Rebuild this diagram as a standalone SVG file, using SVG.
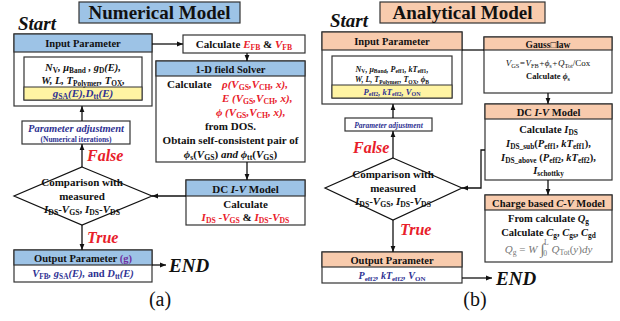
<svg xmlns="http://www.w3.org/2000/svg" width="620" height="321" viewBox="0 0 620 321">
  <style>
    text { font-family: "Liberation Serif", "Times New Roman", serif; font-weight: bold; fill: #111; }
    .box { fill: #fff; stroke: #333; stroke-width: 1.2; }
    .hb { fill: #9dc3e6; stroke: #333; stroke-width: 1.2; }
    .hp { fill: #f8cbad; stroke: #333; stroke-width: 1.2; }
    .yl { fill: #fff4a3; stroke: #333; stroke-width: 1; }
    .ln { fill: none; stroke: #111; stroke-width: 1.3; }
    .dm { fill: #fff; stroke: #111; stroke-width: 1.2; }
    .it { font-style: italic; }
    .up { font-style: normal; }
    .red { fill: #e8202a; }
    .blk { fill: #111; }
    .blu { fill: #2e3192; }
    .pur { fill: #7030a0; }
    .gry { fill: #777; font-weight: normal; }
    .c { text-anchor: middle; }
    .s { font-size: 70%; font-style: normal; }
    .big { font-size: 19px; font-style: italic; }
    .lab { font-size: 20px; font-weight: normal; }
  </style>
  <defs>
    <marker id="ah" viewBox="0 0 10 10" refX="10" refY="5" markerWidth="6" markerHeight="6" orient="auto" markerUnits="userSpaceOnUse">
      <path d="M0,1 L10,5 L0,9 z" fill="#111"/>
    </marker>
  </defs>

  <!-- ===== Panel (a): numerical model ===== -->
  <g id="title-a">
    <rect x="79" y="2" width="161" height="21" class="hb"/>
    <text x="159.5" y="19" class="c" font-size="19">Numerical Model</text>
  </g>
  <text x="18" y="30" class="big">Start</text>

  <g id="input-a">
    <rect x="14" y="34" width="138" height="72" class="box"/>
    <rect x="14" y="34" width="138" height="18" class="hb"/>
    <text x="83" y="47" class="c" font-size="10.5">Input Parameter</text>
    <rect x="24" y="57" width="118" height="43" class="box"/>
    <rect x="24" y="87" width="118" height="13" class="yl"/>
    <text x="83" y="71" class="c it" font-size="10.5">N<tspan class="s" dy="1.5">V</tspan><tspan dy="-1.5">, μ</tspan><tspan class="s" dy="1.5">Band</tspan><tspan dy="-1.5"> , g</tspan><tspan class="s" dy="1.5">D</tspan><tspan dy="-1.5">(E),</tspan></text>
    <text x="83" y="84" class="c it" font-size="10.5">W, L, T<tspan class="s" dy="1.5">Polymer</tspan><tspan dy="-1.5">, T</tspan><tspan class="s" dy="1.5">OX</tspan><tspan dy="-1.5">,</tspan></text>
    <text x="83" y="97" class="c it blu" font-size="11">g<tspan class="s" dy="2">SA</tspan><tspan dy="-2">(E),D</tspan><tspan class="s" dy="2">tt</tspan><tspan dy="-2">(E)</tspan></text>
  </g>

  <g id="calc-efb">
    <rect x="183" y="35" width="122" height="18" class="box"/>
    <text x="244" y="48" class="c" font-size="11">Calculate <tspan class="it red">E</tspan><tspan class="s red" dy="2">FB</tspan><tspan dy="-2"> &amp; </tspan><tspan class="it red">V</tspan><tspan class="s red" dy="2">FB</tspan></text>
  </g>

  <g id="field-solver">
    <rect x="156" y="61" width="149" height="101" class="box"/>
    <rect x="156" y="61" width="149" height="15" class="hb"/>
    <text x="230.5" y="72.5" class="c" font-size="10.5">1-D field Solver</text>
    <text x="167" y="88" font-size="11">Calculate</text>
    <text x="222" y="88" class="it red" font-size="11">ρ(V<tspan class="s" dy="2">GS</tspan><tspan dy="-2">,V</tspan><tspan class="s" dy="2">CH</tspan><tspan dy="-2">, x),</tspan></text>
    <text x="222" y="102" class="it red" font-size="11">E (V<tspan class="s" dy="2">GS</tspan><tspan dy="-2">,V</tspan><tspan class="s" dy="2">CH</tspan><tspan dy="-2">, x),</tspan></text>
    <text x="216" y="116" class="it red" font-size="11">ϕ (V<tspan class="s" dy="2">GS</tspan><tspan dy="-2">,V</tspan><tspan class="s" dy="2">CH</tspan><tspan dy="-2">, x),</tspan></text>
    <text x="230.5" y="130" class="c" font-size="11">from DOS.</text>
    <text x="230.5" y="144" class="c" font-size="11">Obtain self-consistent pair of</text>
    <text x="230.5" y="158" class="c" font-size="11"><tspan class="it">ϕ</tspan><tspan class="s" dy="2">s</tspan><tspan dy="-2">(</tspan><tspan class="it">V</tspan><tspan class="s" dy="2">GS</tspan><tspan dy="-2">) </tspan><tspan class="it">and ϕ</tspan><tspan class="s" dy="2">tt</tspan><tspan dy="-2">(</tspan><tspan class="it">V</tspan><tspan class="s" dy="2">GS</tspan><tspan dy="-2">)</tspan></text>
  </g>

  <g id="dc-iv-a">
    <rect x="186" y="180" width="119" height="45" class="box"/>
    <rect x="186" y="180" width="119" height="16" class="hb"/>
    <text x="245.5" y="192.5" class="c" font-size="11">DC <tspan class="it">I-V</tspan> Model</text>
    <text x="245.5" y="208" class="c" font-size="11">Calculate</text>
    <text x="245.5" y="221" class="c red" font-size="11"><tspan class="it">I</tspan><tspan class="s" dy="2">DS</tspan><tspan dy="-2"> -</tspan><tspan class="it">V</tspan><tspan class="s" dy="2">GS</tspan><tspan dy="-2" class="blk"> &amp; </tspan><tspan class="it">I</tspan><tspan class="s" dy="2">DS</tspan><tspan dy="-2">-</tspan><tspan class="it">V</tspan><tspan class="s" dy="2">DS</tspan></text>
  </g>

  <g id="adjust-a">
    <rect x="22" y="121" width="108" height="23" class="box"/>
    <text x="76" y="132" class="c it blu" font-size="10.5">Parameter adjustment</text>
    <text x="76" y="141.5" class="c blu" font-size="7.5">(Numerical iterations)</text>
  </g>

  <g id="compare-a">
    <path d="M82,167 L152,196 L82,225 L14,196 Z" class="dm"/>
    <text x="82" y="186" class="c" font-size="11">Comparison with</text>
    <text x="82" y="200" class="c" font-size="11">measured</text>
    <text x="82" y="213" class="c" font-size="11"><tspan class="it">I</tspan><tspan class="s" dy="2">DS</tspan><tspan dy="-2">-</tspan><tspan class="it">V</tspan><tspan class="s" dy="2">GS</tspan><tspan dy="-2">, </tspan><tspan class="it">I</tspan><tspan class="s" dy="2">DS</tspan><tspan dy="-2">-</tspan><tspan class="it">V</tspan><tspan class="s" dy="2">DS</tspan></text>
  </g>

  <g id="output-a">
    <rect x="14" y="250" width="138" height="32" class="box"/>
    <rect x="14" y="250" width="138" height="15" class="hb"/>
    <text x="83" y="261.5" class="c" font-size="10.5">Output Parameter <tspan class="pur">(g)</tspan></text>
    <text x="83" y="277" class="c it blu" font-size="10.5">V<tspan class="s" dy="2">FB</tspan><tspan dy="-2">, g</tspan><tspan class="s it" dy="2">SA</tspan><tspan dy="-2">(E), </tspan><tspan class="up">and</tspan><tspan> D</tspan><tspan class="s" dy="2">tt</tspan><tspan dy="-2">(E)</tspan></text>
  </g>

  <text x="87" y="161" class="it red" font-size="16">False</text>
  <text x="87" y="243" class="it red" font-size="16">True</text>
  <text x="169" y="272" class="big">END</text>
  <text x="160" y="306" class="c lab">(a)</text>

  <!-- ===== Panel (b): analytical model ===== -->
  <g id="title-b">
    <rect x="380" y="2" width="165" height="21" class="hp"/>
    <text x="462.5" y="19" class="c" font-size="19">Analytical Model</text>
  </g>
  <text x="330" y="27" class="big">Start</text>

  <g id="input-b">
    <rect x="322" y="32" width="140" height="72" class="box"/>
    <rect x="322" y="32" width="140" height="18" class="hp"/>
    <text x="392" y="45" class="c" font-size="10.5">Input Parameter</text>
    <rect x="332" y="56" width="120" height="42" class="box"/>
    <rect x="332" y="85" width="120" height="13" class="yl"/>
    <text x="392" y="71.5" class="c it" font-size="8">N<tspan class="s" dy="1.5">V</tspan><tspan dy="-1.5">, μ</tspan><tspan class="s" dy="1.5">Band</tspan><tspan dy="-1.5">, P</tspan><tspan class="s" dy="1.5">eff1</tspan><tspan dy="-1.5">, kT</tspan><tspan class="s" dy="1.5">eff1</tspan><tspan dy="-1.5">,</tspan></text>
    <text x="392" y="82" class="c it" font-size="8">W, L, T<tspan class="s" dy="1.5">Polymer</tspan><tspan dy="-1.5">, T</tspan><tspan class="s" dy="1.5">OX</tspan><tspan dy="-1.5">, ϕ</tspan><tspan class="s" dy="1.5">B</tspan></text>
    <text x="392" y="94.5" class="c it blu" font-size="8.5">P<tspan class="s" dy="1.5">eff2</tspan><tspan dy="-1.5">, kT</tspan><tspan class="s" dy="1.5">eff2</tspan><tspan dy="-1.5">, V</tspan><tspan class="s" dy="1.5">ON</tspan></text>
  </g>

  <g id="gauss">
    <rect x="484" y="37" width="128" height="56" class="box"/>
    <rect x="484" y="37" width="128" height="13" class="hp"/>
    <text x="548" y="47.5" class="c" font-size="9.5">Gauss□law</text>
    <text x="548" y="66" class="c it" font-size="9" style="font-weight:normal">V<tspan class="s" dy="1.5">GS</tspan><tspan dy="-1.5">=V</tspan><tspan class="s" dy="1.5">FB</tspan><tspan dy="-1.5">+ϕ</tspan><tspan class="s" dy="1.5">s</tspan><tspan dy="-1.5">+Q</tspan><tspan class="s" dy="1.5">Tot</tspan><tspan dy="-1.5" class="up">/Cox</tspan></text>
    <text x="548" y="79" class="c" font-size="8.5">Calculate <tspan class="it">ϕ</tspan><tspan class="s" dy="1.5">s</tspan></text>
  </g>

  <g id="dc-iv-b">
    <rect x="485" y="104" width="127" height="76" class="box"/>
    <rect x="485" y="104" width="127" height="15" class="hp"/>
    <text x="548.5" y="116" class="c" font-size="10.5">DC <tspan class="it">I-V</tspan> Model</text>
    <text x="548.5" y="133" class="c" font-size="10.5">Calculate <tspan class="it">I</tspan><tspan class="s" dy="2">DS</tspan></text>
    <text x="548.5" y="147" class="c" font-size="10.5"><tspan class="it">I</tspan><tspan class="s" dy="2">DS_sub</tspan><tspan dy="-2">(</tspan><tspan class="it">P</tspan><tspan class="s" dy="2">eff1</tspan><tspan dy="-2">, </tspan><tspan class="it">kT</tspan><tspan class="s" dy="2">eff1</tspan><tspan dy="-2">),</tspan></text>
    <text x="548.5" y="161" class="c" font-size="10.5"><tspan class="it">I</tspan><tspan class="s" dy="2">DS_above</tspan><tspan dy="-2"> (</tspan><tspan class="it">P</tspan><tspan class="s" dy="2">eff2</tspan><tspan dy="-2">, </tspan><tspan class="it">kT</tspan><tspan class="s" dy="2">eff2</tspan><tspan dy="-2">),</tspan></text>
    <text x="548.5" y="174" class="c" font-size="10.5"><tspan class="it">I</tspan><tspan class="s" dy="2">schottky</tspan></text>
  </g>

  <g id="cv-b">
    <rect x="485" y="195" width="127" height="67" class="box"/>
    <rect x="485" y="195" width="127" height="15" class="hp"/>
    <text x="548.5" y="207" class="c" font-size="10.5">Charge based <tspan class="it">C-V</tspan> Model</text>
    <text x="548.5" y="222" class="c" font-size="10.5">From calculate <tspan class="it">Q</tspan><tspan class="s" dy="2">g</tspan></text>
    <text x="548.5" y="236" class="c" font-size="10.5">Calculate <tspan class="it">C</tspan><tspan class="s" dy="2">g</tspan><tspan dy="-2">, </tspan><tspan class="it">C</tspan><tspan class="s" dy="2">gs</tspan><tspan dy="-2">, </tspan><tspan class="it">C</tspan><tspan class="s" dy="2">gd</tspan></text>
    <text x="548.5" y="253" class="c it gry" font-size="11">Q<tspan class="s" dy="2">g</tspan><tspan dy="-2" class="up"> = </tspan><tspan>W </tspan><tspan class="up" font-size="15" dy="1">∫</tspan><tspan class="s" dx="-1" dy="2">0</tspan><tspan class="s" dx="-3" dy="-11">L</tspan><tspan dy="8"> Q</tspan><tspan class="s" dy="2">Tot</tspan><tspan dy="-2" class="up">(</tspan><tspan>y</tspan><tspan class="up">)</tspan><tspan>dy</tspan></text>
  </g>

  <g id="adjust-b">
    <rect x="345" y="118" width="87" height="13" class="box"/>
    <text x="388.5" y="127.5" class="c it blu" font-size="7.5">Parameter adjustment</text>
  </g>

  <g id="compare-b">
    <path d="M393,158 L462,188 L393,220 L325,188 Z" class="dm"/>
    <text x="393" y="178" class="c" font-size="11">Comparison with</text>
    <text x="393" y="192" class="c" font-size="11">measured</text>
    <text x="393" y="205" class="c" font-size="11"><tspan class="it">I</tspan><tspan class="s" dy="2">DS</tspan><tspan dy="-2">-</tspan><tspan class="it">V</tspan><tspan class="s" dy="2">GS</tspan><tspan dy="-2">, </tspan><tspan class="it">I</tspan><tspan class="s" dy="2">DS</tspan><tspan dy="-2">-</tspan><tspan class="it">V</tspan><tspan class="s" dy="2">DS</tspan></text>
  </g>

  <g id="output-b">
    <rect x="322" y="252" width="140" height="31" class="box"/>
    <rect x="322" y="252" width="140" height="15" class="hp"/>
    <text x="392" y="263.5" class="c" font-size="10.5">Output Parameter</text>
    <text x="392" y="279" class="c it blu" font-size="10">P<tspan class="s" dy="2">eff2</tspan><tspan dy="-2">, kT</tspan><tspan class="s" dy="2">eff2</tspan><tspan dy="-2">, V</tspan><tspan class="s" dy="2">ON</tspan></text>
  </g>

  <text x="353" y="153" class="it red" font-size="16">False</text>
  <text x="400" y="235" class="it red" font-size="16">True</text>
  <text x="496" y="285" class="big">END</text>
  <text x="475" y="306" class="c lab">(b)</text>

  <!-- ===== Connectors ===== -->
  <g id="connectors">
    <line x1="152" y1="44" x2="183" y2="44" class="ln" marker-end="url(#ah)"/>
    <line x1="247" y1="53" x2="247" y2="61" class="ln" marker-end="url(#ah)"/>
    <line x1="247" y1="162" x2="247" y2="180" class="ln" marker-end="url(#ah)"/>
    <line x1="186" y1="196" x2="152" y2="196" class="ln" marker-end="url(#ah)"/>
    <line x1="82" y1="167" x2="82" y2="144" class="ln" marker-end="url(#ah)"/>
    <line x1="82" y1="121" x2="82" y2="106" class="ln" marker-end="url(#ah)"/>
    <line x1="82" y1="225" x2="82" y2="250" class="ln" marker-end="url(#ah)"/>
    <line x1="152" y1="265" x2="166" y2="265" class="ln" marker-end="url(#ah)"/>

    <line x1="462" y1="50" x2="484" y2="50" class="ln"/>
    <line x1="548" y1="93" x2="548" y2="104" class="ln" marker-end="url(#ah)"/>
    <line x1="548" y1="180" x2="548" y2="195" class="ln" marker-end="url(#ah)"/>
    <polyline points="485,150 481,150 481,188 462,188" class="ln" marker-end="url(#ah)"/>
    <line x1="393" y1="158" x2="393" y2="131" class="ln" marker-end="url(#ah)"/>
    <line x1="393" y1="118" x2="393" y2="104" class="ln" marker-end="url(#ah)"/>
    <line x1="393" y1="220" x2="393" y2="252" class="ln" marker-end="url(#ah)"/>
    <line x1="462" y1="278" x2="492" y2="278" class="ln" marker-end="url(#ah)"/>
  </g>
</svg>
